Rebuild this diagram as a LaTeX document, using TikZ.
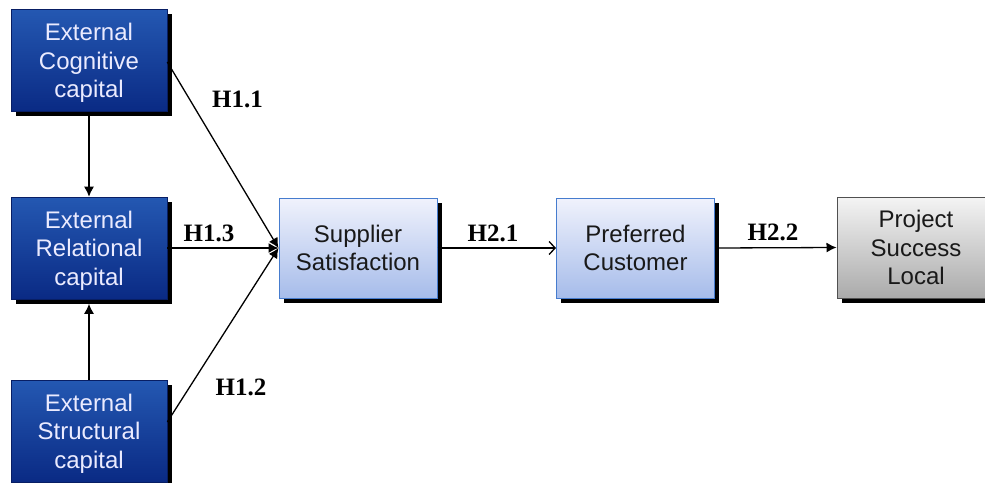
\documentclass[tikz,border=0pt]{standalone}
\usepackage{fontspec}
\setmainfont{Liberation Serif}
\setsansfont{Liberation Sans}
\usetikzlibrary{arrows.meta,shadows}

\definecolor{navyTop}{RGB}{36,88,178}
\definecolor{navyBot}{RGB}{10,42,132}
\definecolor{navyEdge}{RGB}{8,30,100}
\definecolor{paleTop}{RGB}{240,242,252}
\definecolor{paleBot}{RGB}{166,188,234}
\definecolor{paleEdge}{RGB}{70,124,206}
\definecolor{greyTop}{RGB}{244,244,244}
\definecolor{greyBot}{RGB}{170,170,170}
\definecolor{greyEdge}{RGB}{80,80,80}

\tikzset{
  x=1pt, y=-1pt,
  box/.style={rectangle, minimum width=156pt, minimum height=102pt,
    inner sep=0pt, align=center, text depth=0pt,
    font=\sffamily\fontsize{24}{28.5}\selectfont,
    drop shadow={shadow xshift=4.5pt, shadow yshift=-4.5pt, fill=black, opacity=1}},
  darkbox/.style={box, top color=navyTop, bottom color=navyBot, draw=navyEdge,
    line width=0.6pt, text=white!92!blue},
  palebox/.style={box, minimum width=158pt, minimum height=100pt,
    top color=paleTop, bottom color=paleBot, draw=paleEdge, line width=1pt,
    text=black!90},
  greybox/.style={box, minimum width=158pt, minimum height=101pt,
    top color=greyTop, bottom color=greyBot, draw=greyEdge, line width=1pt,
    text=black!90},
  hyp/.style={inner sep=0pt, font=\bfseries\fontsize{25}{25}\selectfont},
  link/.style={line width=1.3pt, -{Latex[length=10pt,width=10pt]}},
  openlink/.style={line width=1.3pt, -{Straight Barb[length=6pt,width=13pt,line width=1.3pt]}}
}

\begin{document}
\begin{tikzpicture}
\useasboundingbox (0,0) rectangle (985,482);

% constructs on the left
\node[darkbox] (ecc) at (89,60.5) {External\\Cognitive\\capital};
\node[darkbox] (erc) at (89,248) {External\\Relational\\capital};
\node[darkbox] (esc) at (89,431) {External\\Structural\\capital};

% mediators and outcome
\node[palebox] (ss) at (358,248) {Supplier\\Satisfaction};
\node[palebox] (pc) at (635.5,248) {Preferred\\Customer};
\node[greybox] (psl) at (916,247.5) {Project\\Success\\Local};

% vertical links between the capital constructs
\draw[link] (ecc.south) -- (erc.north);
\draw[link] (esc.north) -- ([yshift=-4.5pt]erc.south);

% hypothesised paths
\draw[link] ([yshift=-1.5pt]ecc.east) -- (ss.west);
\draw[link] (erc.east) -- (ss.west);
\draw[link] ([yshift=9pt]esc.east) -- (ss.west);
\draw[openlink] (ss.east) -- (pc.west);
\draw[link] (pc.east) -- (psl.west);

% hypothesis labels
\node[hyp] (h11) at (237.5,99.5) {H1.1};
\node[hyp] (h13) at (209,233) {H1.3};
\node[hyp] (h12) at (241,387.5) {H1.2};
\node[hyp] (h21) at (493,233) {H2.1};
\node[hyp] (h22) at (773,232.5) {H2.2};
\end{tikzpicture}
\end{document}
